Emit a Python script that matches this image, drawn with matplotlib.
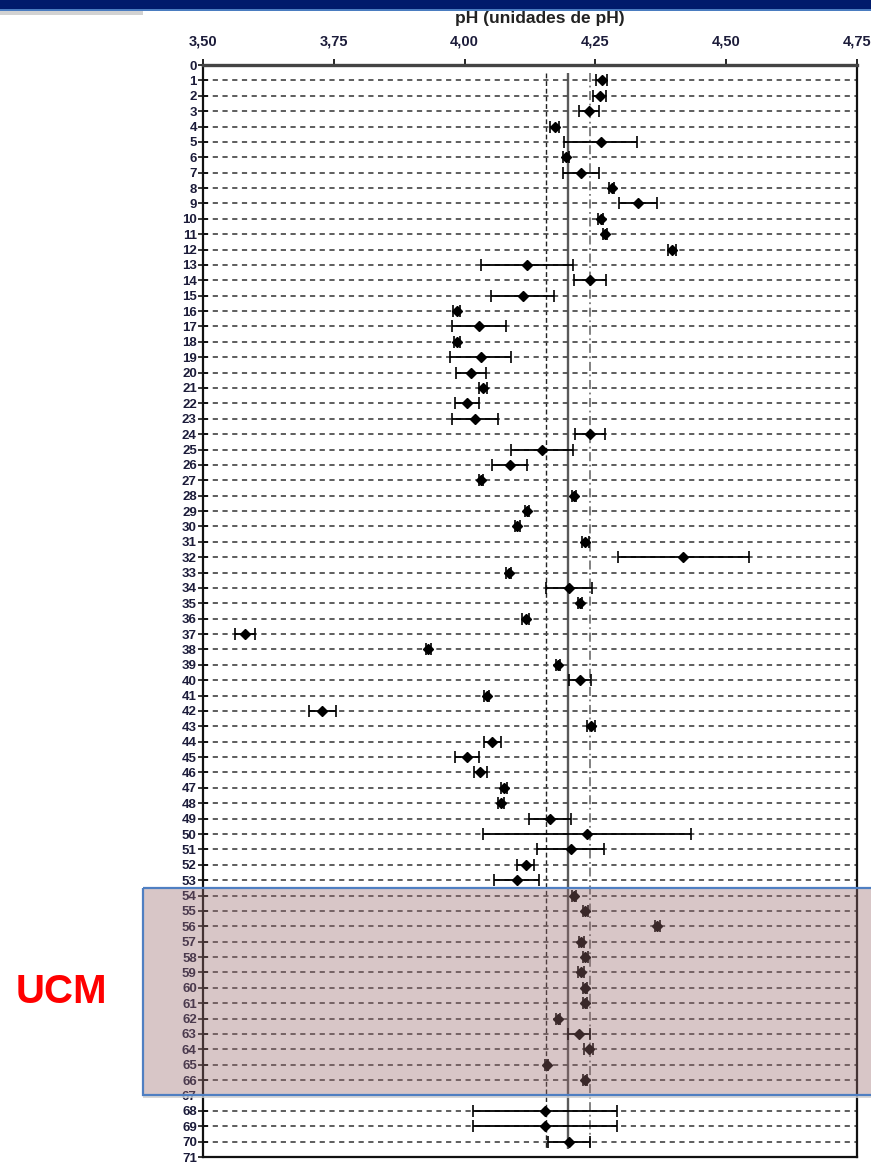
import numpy as np
import matplotlib
matplotlib.use("Agg")
import matplotlib.pyplot as plt
from matplotlib.patches import Rectangle

# Laboratory results: pH mean and half-width of the uncertainty interval
lab_ids = list(range(1, 71))
ph_mean = [
    4.262, 4.258, 4.238, 4.172, 4.260, 4.194, 4.223, 4.281, 4.332, 4.260,
    4.269, 4.396, 4.120, 4.240, 4.111, 3.985, 4.027, 3.985, 4.031, 4.012,
    4.035, 4.005, 4.020, 4.240, 4.148, 4.086, 4.031, 4.209, 4.120, 4.101,
    4.231, 4.418, 4.084, 4.199, 4.221, 4.117, 3.581, 3.931, 4.179, 4.221,
    4.042, 3.728, 4.242, 4.053, 4.005, 4.030, 4.075, 4.069, 4.164, 4.234,
    4.203, 4.117, 4.100, 4.209, 4.231, 4.368, 4.223, 4.231, 4.223, 4.230,
    4.230, 4.179, 4.219, 4.237, 4.157, 4.230, np.nan, 4.154, 4.154, 4.199,
]
ph_err = [
    0.010, 0.012, 0.019, 0.008, 0.070, 0.006, 0.034, 0.005, 0.036, 0.005,
    0.004, 0.008, 0.088, 0.030, 0.060, 0.007, 0.052, 0.006, 0.058, 0.029,
    0.007, 0.023, 0.044, 0.029, 0.060, 0.034, 0.004, 0.004, 0.004, 0.004,
    0.006, 0.125, 0.005, 0.044, 0.004, 0.007, 0.019, 0.004, 0.004, 0.021,
    0.004, 0.026, 0.008, 0.016, 0.023, 0.012, 0.006, 0.006, 0.040, 0.198,
    0.064, 0.016, 0.043, 0.004, 0.004, 0.005, 0.005, 0.005, 0.006, 0.004,
    0.004, 0.004, 0.021, 0.008, 0.003, 0.004, np.nan, 0.138, 0.138, 0.040,
]

# Consensus value and its limits
ref_mean = 4.197
ref_low = 4.155
ref_high = 4.240

x_ticks = [3.50, 3.75, 4.00, 4.25, 4.50, 4.75]
x_tick_labels = ["3,50", "3,75", "4,00", "4,25", "4,50", "4,75"]
y_ticks = list(range(0, 72))

title_text = "pH (unidades de pH)"
group_label = "UCM"
group_rows = (54, 66)

W, H = 871, 1165
fig = plt.figure(figsize=(W / 100, H / 100), dpi=100)
fig.patch.set_facecolor("white")

ax = fig.add_axes([203 / W, 1 - 1157 / H, (857 - 203) / W, (1157 - 65) / H])
ax.set_xlim(x_ticks[0], x_ticks[-1])
ax.set_ylim(71, 0)

# Row grid
ax.set_yticks(y_ticks)
ax.set_yticklabels([str(v) for v in y_ticks])
ax.yaxis.grid(True, linestyle=(0, (3, 2.6)), color="#4a4a4a", linewidth=1.25, zorder=0)
ax.xaxis.grid(False)

# Reference lines
ax.vlines(ref_mean, 0.5, 70.5, colors="#5a5a5a", linewidth=1.7, zorder=1)
ax.vlines(ref_low, 0.5, 70.5, colors="#222222", linewidth=1.0,
          linestyles=(0, (3.5, 2)), zorder=1)
ax.vlines(ref_high, 0.5, 70.5, colors="#777777", linewidth=1.3,
          linestyles=(0, (5, 2, 1, 2)), zorder=1)

# Laboratory results
ax.errorbar(ph_mean, lab_ids, xerr=ph_err, fmt="D", color="black",
            markersize=5, ecolor="black", elinewidth=1.3, capsize=4,
            capthick=1.2, zorder=3)

ax.xaxis.set_ticks_position("top")
ax.xaxis.set_label_position("top")
ax.set_xticks(x_ticks)
ax.set_xticklabels(x_tick_labels)
ax.tick_params(axis="x", direction="out", length=4, width=1.2, pad=8,
               labelsize=10.5, labelcolor="#1c1c3a")
ax.tick_params(axis="y", direction="inout", length=7, width=1.1, pad=1,
               labelsize=9.5, labelcolor="#1c1c3a")
for lab in ax.get_xticklabels() + ax.get_yticklabels():
    lab.set_fontfamily("Liberation Sans")
    lab.set_fontweight("bold")

for side in ["left", "right", "bottom"]:
    ax.spines[side].set_linewidth(1.6)
    ax.spines[side].set_color("#111111")
ax.spines["top"].set_linewidth(2.4)
ax.spines["top"].set_color("#444444")

fig.text(540 / W, 1 - 18 / H, title_text, ha="center", va="center",
         fontsize=12.5, fontweight="bold", family="Liberation Sans", color="#222222")

# Overlay layer in pixel coordinates
ov = fig.add_axes([0, 0, 1, 1], zorder=10)
ov.set_xlim(0, W)
ov.set_ylim(H, 0)
ov.axis("off")
ov.patch.set_alpha(0)

# Header band
ov.add_patch(Rectangle((0, 0), W, 9, facecolor="#001a6b", edgecolor="none"))
ov.add_patch(Rectangle((0, 9), W, 1.5, facecolor="#4a7cc0", edgecolor="none"))
ov.add_patch(Rectangle((0, 10.5), 143, 4, facecolor="#d2d2d2", edgecolor="none"))

# Highlight band for the group rows, placed from the row positions
to_px = lambda r: H - ax.transData.transform((x_ticks[0], r))[1]
y_top = to_px(group_rows[0] - 0.5)
y_bot = to_px(group_rows[1] + 1.0)
x_left = 143
ov.add_patch(Rectangle((x_left, y_top), W - x_left + 5, y_bot - y_top,
                       facecolor=(0.60, 0.42, 0.43), alpha=0.38,
                       edgecolor="none", zorder=2))
ov.add_patch(Rectangle((x_left, y_bot), W - x_left + 5, 3,
                       facecolor="#cfcfcf", edgecolor="none", alpha=0.8, zorder=2))
ov.add_patch(Rectangle((x_left, y_top), W - x_left + 5, y_bot - y_top,
                       facecolor="none", edgecolor="#4f7fc2", linewidth=1.6,
                       zorder=3))

ov.text(61, (y_top + y_bot) / 2, group_label, ha="center", va="center",
        fontsize=29, fontweight="bold", family="Liberation Sans", color="#ff0000")

fig.savefig("out.png", dpi=100)
